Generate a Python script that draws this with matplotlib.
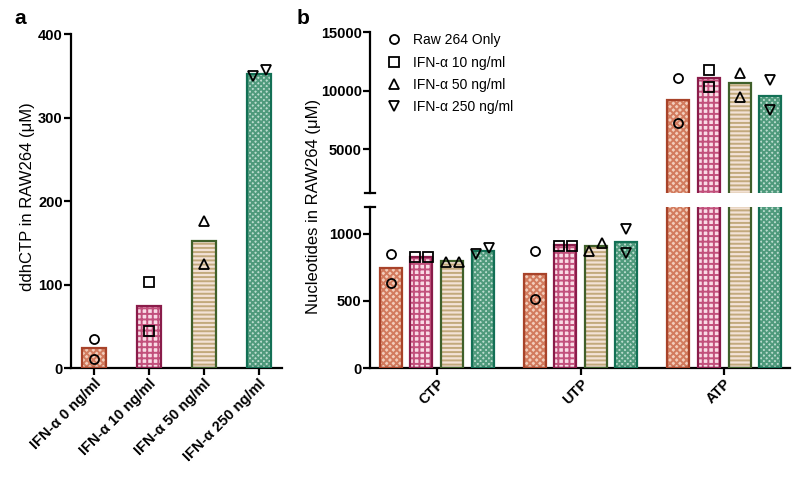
#!/usr/bin/env python3
"""ddhCTP and nucleotide levels in RAW264 cells with IFN-alpha treatment."""

import matplotlib
matplotlib.use("Agg")
import matplotlib.pyplot as plt
from matplotlib.lines import Line2D
import numpy as np

plt.rcParams["font.family"] = ["Liberation Sans", "DejaVu Sans"]
plt.rcParams["hatch.linewidth"] = 1.4

# panel a
DOSE_LABELS = ["IFN-α 0 ng/ml", "IFN-α 10 ng/ml", "IFN-α 50 ng/ml", "IFN-α 250 ng/ml"]
DDHCTP_MEAN = [24, 74, 152, 352]
DDHCTP_REPS = [[35, 11], [103, 44], [176, 125], [350, 357]]

# panel b
NUCLEOTIDES = ["CTP", "UTP", "ATP"]
LEGEND_LABELS = ["Raw 264 Only", "IFN-α 10 ng/ml", "IFN-α 50 ng/ml", "IFN-α 250 ng/ml"]
# rows = treatment, cols = nucleotide
NUC_MEAN = [
    [746, 701, 9230],
    [828, 918, 11110],
    [798, 910, 10680],
    [873, 940, 9570],
]
NUC_REPS = [
    [[851, 634], [873, 515], [11110, 7265]],
    [[830, 830], [910, 910], [11800, 10340]],
    [[791, 791], [873, 933], [11540, 9490]],
    [[851, 895], [1037, 858], [10940, 8370]],
]

MARKERS = ["o", "s", "^", "v"]
EDGE = ["#a8432a", "#8a1c4a", "#3f5f2a", "#137055"]
FACE = ["#f3cdbb", "#f9dbe5", "#f3e2d6", "#bcdccf"]
HATCH_COL = ["#d27b5e", "#c2507c", "#c2a97c", "#4f9a7c"]
HATCH = ["xxxxx", "+++", "----", "xxxxxx"]

LOW_MAX = 1200
HIGH_MIN = 1250


def draw_bar(ax, x, h, w, i):
    ax.bar(x, h, w, color=FACE[i], edgecolor=HATCH_COL[i], hatch=HATCH[i], linewidth=0, zorder=2)
    ax.bar(x, h, w, fill=False, edgecolor=EDGE[i], linewidth=1.6, zorder=3)


def draw_points(ax, x, vals, marker):
    # spread overlapping replicate points sideways, like the prism scatter
    pix = [ax.transData.transform((x, v))[1] for v in vals]
    xs = [x] * len(vals)
    if len(vals) == 2 and abs(pix[0] - pix[1]) < 11:
        x0 = ax.transData.transform((x, 0))[0]
        inv = ax.transData.inverted()
        xs = [inv.transform((x0 - 6.5, 0))[0], inv.transform((x0 + 6.5, 0))[0]]
    ax.plot(xs, vals, linestyle="none", marker=marker, markersize=6.5,
            markerfacecolor="none", markeredgecolor="black", markeredgewidth=1.3,
            zorder=5, clip_on=False)


def style_axis(ax):
    for side in ["top", "right"]:
        ax.spines[side].set_visible(False)
    for side in ["left", "bottom"]:
        ax.spines[side].set_linewidth(1.6)
    ax.tick_params(width=1.6, length=5, labelsize=10.5, pad=1)
    for lab in ax.get_yticklabels():
        lab.set_fontweight("bold")


fig = plt.figure(figsize=(8, 4.79), dpi=100)

# ---- panel a ----
ax_a = fig.add_axes([0.08875, 0.2317, 0.26375, 0.6973])
xa = np.arange(len(DOSE_LABELS))
ax_a.set_xlim(-0.418, 3.418)
ax_a.set_ylim(0, 400)
ax_a.set_yticks([0, 100, 200, 300, 400])
for i in range(len(xa)):
    draw_bar(ax_a, xa[i], DDHCTP_MEAN[i], 0.42, i)
for i in range(len(xa)):
    draw_points(ax_a, xa[i], DDHCTP_REPS[i], MARKERS[i])
ax_a.set_xticks(xa)
ax_a.set_xticklabels(DOSE_LABELS, rotation=45, ha="right", rotation_mode="anchor",
                     fontweight="bold", fontsize=10.5)
style_axis(ax_a)
fig.text(0.034, 0.59, "ddhCTP in RAW264 (μM)", rotation=90, ha="center",
         va="center", fontsize=12)

# ---- panel b (broken y axis) ----
ax_lo = fig.add_axes([0.4625, 0.2317, 0.525, 0.3361])
ax_hi = fig.add_axes([0.4625, 0.597, 0.525, 0.336])
xb = np.arange(len(NUCLEOTIDES))
offsets = [-0.32, -0.107, 0.107, 0.32]
bw = 0.153
for ax in [ax_lo, ax_hi]:
    ax.set_xlim(-0.465, 2.458)
ax_lo.set_ylim(0, LOW_MAX)
ax_hi.set_ylim(HIGH_MIN, 15000)
ax_lo.set_yticks([0, 500, 1000])
ax_hi.set_yticks([5000, 10000, 15000])

for i in range(len(NUC_MEAN)):
    for j in range(len(NUCLEOTIDES)):
        for ax in [ax_lo, ax_hi]:
            draw_bar(ax, xb[j] + offsets[i], NUC_MEAN[i][j], bw, i)

for i in range(len(NUC_REPS)):
    for j in range(len(NUCLEOTIDES)):
        vals = NUC_REPS[i][j]
        ax = ax_lo if max(vals) < LOW_MAX else ax_hi
        draw_points(ax, xb[j] + offsets[i], vals, MARKERS[i])

ax_lo.set_xticks(xb)
ax_lo.set_xticklabels(NUCLEOTIDES, rotation=45, ha="right", rotation_mode="anchor",
                      fontweight="bold", fontsize=10.5)
style_axis(ax_lo)
style_axis(ax_hi)
ax_hi.spines["bottom"].set_visible(False)
ax_hi.tick_params(axis="x", bottom=False, labelbottom=False)

# break caps on the y axis
ax_hi.plot([-0.012, 0.012], [0, 0], transform=ax_hi.transAxes, color="black",
           linewidth=1.6, clip_on=False)
ax_lo.plot([-0.012, 0.012], [1, 1], transform=ax_lo.transAxes, color="black",
           linewidth=1.6, clip_on=False)

fig.text(0.392, 0.57, "Nucleotides in RAW264 (μM)", rotation=90, ha="center",
         va="center", fontsize=12)

handles = [Line2D([], [], linestyle="none", marker=m, markersize=6.5, markerfacecolor="none",
                  markeredgecolor="black", markeredgewidth=1.3) for m in MARKERS]
ax_hi.legend(handles, LEGEND_LABELS, loc="upper left", bbox_to_anchor=(0.475, 0.945),
             bbox_transform=fig.transFigure, frameon=False, fontsize=10,
             handlelength=1.0, handletextpad=0.9, labelspacing=0.6, borderpad=0)

fig.text(0.025, 0.962, "a", fontsize=15, fontweight="bold", ha="center", va="center")
fig.text(0.379, 0.962, "b", fontsize=15, fontweight="bold", ha="center", va="center")

fig.savefig("out.png", dpi=100)
